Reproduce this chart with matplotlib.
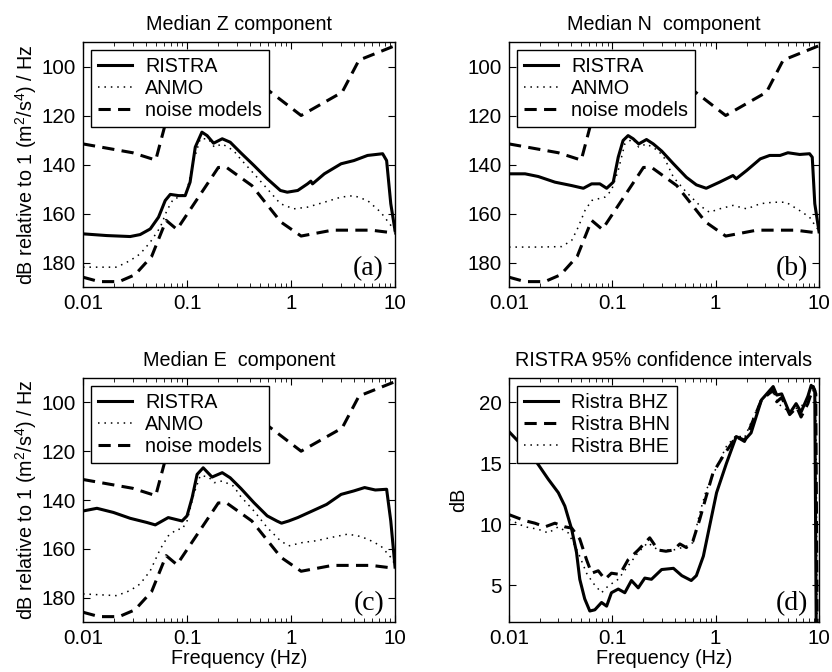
import numpy as np
import matplotlib
matplotlib.use("Agg")
import matplotlib.pyplot as plt

plt.rcParams['font.family'] = ['Liberation Sans', 'DejaVu Sans']
plt.rcParams['mathtext.default'] = 'regular'

# noise models (high / low), frequency in Hz, dB (positive down)
nhnm_f = [0.01, 0.03, 0.05, 0.065, 0.127, 0.159, 0.217, 0.263, 1.25, 3.1, 4.5, 10]
nhnm_db = [131.6, 135.2, 138.2, 120.0, 113.5, 101.0, 96.5, 97.9, 120.0, 110.5, 97.4, 91.5]
nlnm_f = [0.01, 0.0143, 0.0222, 0.0316, 0.0457, 0.063, 0.08, 0.2, 0.24, 0.42, 0.8, 1.25, 2.5, 5.9, 10]
nlnm_db = [186.0, 187.8, 187.8, 185.0, 177.5, 162.8, 166.5, 141.2, 141.2, 148.6, 163.5, 169.2, 166.8, 166.8, 168.0]

# median Z
z_ristra_f = [0.01, 0.0169, 0.0284, 0.0354, 0.0443, 0.0532, 0.0617, 0.069, 0.083, 0.096, 0.107, 0.12,
              0.139, 0.156, 0.18, 0.218, 0.26, 0.33, 0.44, 0.59, 0.79, 0.92, 1.16, 1.44, 1.55, 1.61,
              2.09, 3.03, 4.02, 5.44, 7.6, 8.3, 9.1, 10]
z_ristra_db = [168.3, 169.0, 169.4, 168.6, 166.3, 161.5, 154.7, 152.2, 152.7, 152.7, 147.2, 132.9,
               126.8, 128.2, 131.3, 129.5, 130.9, 135.3, 140.4, 145.8, 150.6, 151.3, 150.6, 147.9, 146.8, 147.9,
               143.8, 139.7, 138.4, 136.3, 135.6, 138.4, 156.0, 167.0]
z_anmo_f = [0.01, 0.0211, 0.0284, 0.0354, 0.0443, 0.0553, 0.064, 0.074, 0.086, 0.1, 0.116, 0.134,
            0.16, 0.183, 0.218, 0.28, 0.326, 0.44, 0.59, 0.79, 1.06, 1.44, 2.09, 3.03, 4.02, 5.44,
            7.3, 9.4, 10]
z_anmo_db = [181.9, 181.9, 179.2, 176.5, 171.7, 165.6, 158.8, 154.0, 153.3, 150.6, 138.4, 129.5,
             129.5, 132.9, 131.6, 134.3, 137.7, 143.8, 149.9, 156.0, 158.1, 157.4, 155.4, 153.3, 152.7, 154.7,
             159.5, 165.6, 167.0]

# median N
n_ristra_f = [0.01, 0.0143, 0.0192, 0.0278, 0.0404, 0.0524, 0.063, 0.0757, 0.0881, 0.102, 0.114, 0.127,
              0.142, 0.159, 0.18, 0.214, 0.249, 0.3, 0.39, 0.52, 0.65, 0.81, 1.09, 1.47, 1.58, 2.0,
              2.7, 3.33, 4.2, 5.0, 6.5, 8.1, 8.6, 9.1, 10]
n_ristra_db = [143.8, 143.8, 144.9, 147.2, 148.6, 149.7, 147.9, 147.9, 149.7, 147.2, 137.0, 130.2,
               128.2, 129.5, 131.6, 129.8, 131.6, 134.5, 139.7, 145.2, 148.3, 149.7, 147.2, 144.5, 145.8, 142.4,
               137.7, 136.3, 136.3, 135.2, 135.9, 135.6, 137.0, 156.0, 167.5]
n_anmo_f = [0.01, 0.0192, 0.0323, 0.0404, 0.0467, 0.0543, 0.063, 0.073, 0.0848, 0.098, 0.114, 0.132,
            0.158, 0.18, 0.214, 0.277, 0.32, 0.39, 0.52, 0.7, 0.87, 1.09, 1.47, 2.0, 2.7, 3.6, 4.8,
            6.5, 8.1, 9.4, 10]
n_anmo_db = [173.7, 173.7, 173.5, 171.0, 165.6, 158.8, 154.7, 154.0, 153.3, 150.6, 142.4, 131.6,
             129.5, 132.9, 131.6, 134.3, 137.5, 145.2, 151.3, 156.7, 159.5, 158.1, 156.7, 158.1, 156.0, 155.4, 155.4,
             158.8, 161.5, 165.6, 167.0]

# median E
e_ristra_f = [0.01, 0.0136, 0.0196, 0.0284, 0.041, 0.0495, 0.066, 0.0896, 0.1, 0.112, 0.125, 0.143,
              0.174, 0.218, 0.26, 0.33, 0.44, 0.59, 0.73, 0.81, 0.95, 1.16, 1.6, 2.2, 3.03, 4.0, 5.1,
              6.46, 8.3, 9.1, 10]
e_ristra_db = [144.5, 143.4, 145.1, 147.5, 149.2, 150.2, 147.2, 148.6, 146.5, 139.0, 129.5, 126.8,
               130.6, 128.8, 130.9, 135.3, 141.1, 146.5, 148.6, 149.5, 148.6, 147.2, 144.5, 141.8, 137.7, 136.3, 134.9,
               135.9, 135.6, 148.6, 167.5]
e_anmo_f = [0.01, 0.0211, 0.0284, 0.0354, 0.0443, 0.0553, 0.066, 0.08, 0.0896, 0.1, 0.116, 0.134,
            0.16, 0.183, 0.218, 0.28, 0.326, 0.44, 0.59, 0.79, 0.95, 1.3, 1.75, 2.4, 3.5, 4.4, 5.44,
            7.3, 9.1, 10]
e_anmo_db = [178.5, 179.2, 177.1, 174.4, 169.0, 160.1, 154.7, 152.0, 152.0, 148.6, 137.7, 130.0,
             130.5, 132.9, 132.2, 134.3, 138.4, 144.5, 151.3, 156.7, 158.8, 157.4, 156.7, 155.4, 154.0, 154.7, 156.0,
             158.8, 163.5, 166.5]

# 95% confidence intervals
ci_z_f = [0.01, 0.0123, 0.0154, 0.0192, 0.024, 0.03, 0.0347, 0.0404, 0.045, 0.0484, 0.054, 0.0605,
          0.0677, 0.0786, 0.088, 0.098, 0.114, 0.132, 0.153, 0.178, 0.206, 0.239, 0.3, 0.39, 0.47,
          0.58, 0.65, 0.76, 0.87, 1.02, 1.27, 1.58, 1.9, 2.2, 2.77, 3.6, 3.9, 4.35, 5.2, 6.0, 6.7,
          7.8, 8.4, 9.1, 9.4, 10]
ci_z_db = [17.6, 16.8, 16.0, 14.9, 13.7, 12.6, 11.5, 9.6, 7.7, 5.5, 3.9, 2.9,
           3.0, 3.6, 3.3, 4.4, 4.7, 4.4, 5.4, 4.8, 5.6, 5.5, 6.3, 6.4, 5.8,
           5.4, 5.8, 7.4, 9.8, 12.6, 15.0, 17.2, 16.9, 17.5, 20.2, 21.3, 20.6, 20.7, 19.1, 19.9, 19.2,
           20.5, 21.4, 21.0, 1.0, 1.0]
ci_n_f = [0.01, 0.0143, 0.0178, 0.0223, 0.0278, 0.0347, 0.0404, 0.0484, 0.0563, 0.063, 0.073, 0.0848,
          0.098, 0.118, 0.142, 0.178, 0.23, 0.277, 0.33, 0.39, 0.45, 0.52, 0.6, 0.7, 0.81, 0.94,
          1.18, 1.58, 1.9, 2.77, 3.6, 3.9, 4.35, 5.2, 6.1, 6.7, 7.8, 8.8, 9.3, 9.6, 10]
ci_n_db = [10.8, 10.3, 10.1, 9.8, 10.1, 9.8, 9.7, 8.8, 7.1, 6.0, 6.2, 5.5,
           6.0, 5.9, 7.1, 7.9, 8.9, 7.9, 7.8, 7.9, 8.4, 8.1, 8.6, 10.4, 12.3, 14.2,
           15.6, 17.2, 16.8, 20.2, 21.0, 20.05, 20.4, 19.0, 19.6, 18.8, 19.9, 21.3, 20.7, 1.0, 1.0]
ci_e_f = [0.01, 0.0143, 0.0192, 0.024, 0.03, 0.0375, 0.0467, 0.0563, 0.065, 0.0786, 0.091, 0.114,
          0.142, 0.178, 0.22, 0.277, 0.39, 0.52, 0.6, 0.7, 0.81, 1.02, 1.27, 1.58, 1.9, 2.77, 3.6,
          4.0, 5.2, 6.3, 7.8, 8.8, 9.3, 9.6, 10]
ci_e_db = [10.4, 9.8, 9.6, 9.3, 9.8, 9.3, 7.7, 6.0, 5.2, 4.4, 4.95, 5.5,
           6.6, 7.7, 8.5, 7.9, 7.9, 8.2, 8.5, 10.9, 12.8, 14.7, 16.4, 17.3, 17.1, 20.3, 20.9,
           19.9, 19.2, 19.6, 20.0, 21.0, 20.7, 1.0, 1.0]

titles = ['Median Z component', 'Median N  component', 'Median E  component',
          'RISTRA 95% confidence intervals']
panel_tags = ['(a)', '(b)', '(c)', '(d)']
median_legend = ['RISTRA', 'ANMO', 'noise models']
ci_legend = ['Ristra BHZ', 'Ristra BHN', 'Ristra BHE']
xticks = [0.01, 0.1, 1, 10]
xticklabels = ['0.01', '0.1', '1', '10']

FS = 14.2
TICK_FS = 14.8
dot_style = dict(color='k', lw=1.1, dashes=(1.0, 3.2))
solid_style = dict(color='k', lw=2.2, ls='-')
dash_style = dict(color='k', lw=2.2, dashes=(4.0, 2.4))


def style_axes(ax, title, tag):
    ax.set_xscale('log')
    ax.set_xlim(0.01, 10)
    ax.set_xticks(xticks)
    ax.set_xticklabels(xticklabels)
    ax.tick_params(which='both', direction='in', top=True, right=True, labelsize=TICK_FS, pad=5)
    ax.tick_params(which='major', length=5)
    ax.tick_params(which='minor', length=3)
    for s in ax.spines.values():
        s.set_linewidth(1.0)
    ax.set_title(title, fontsize=FS, pad=9)
    ax.text(0.965, 0.025, tag, transform=ax.transAxes, ha='right', va='bottom',
            family='Liberation Serif', fontsize=20)


def add_legend(ax, handles, labels):
    leg = ax.legend(handles, labels, loc='upper left', fontsize=FS, frameon=True, fancybox=False,
                    edgecolor='k', framealpha=1, borderaxespad=0.4, borderpad=0.35,
                    labelspacing=0.15, handlelength=1.75, handletextpad=0.65)
    leg.get_frame().set_linewidth(1.0)


fig = plt.figure(figsize=(8.32, 6.72), dpi=100)
positions = [[0.0998, 0.5729, 0.375, 0.3646], [0.6118, 0.5729, 0.3726, 0.3646],
             [0.0998, 0.0744, 0.375, 0.3631], [0.6118, 0.0744, 0.3726, 0.3631]]

median_sets = [(z_ristra_f, z_ristra_db, z_anmo_f, z_anmo_db),
               (n_ristra_f, n_ristra_db, n_anmo_f, n_anmo_db),
               (e_ristra_f, e_ristra_db, e_anmo_f, e_anmo_db)]

for i in range(3):
    ax = fig.add_axes(positions[i])
    rf, rdb, af, adb = median_sets[i]
    h1, = ax.plot(rf, rdb, **solid_style)
    h2, = ax.plot(af, adb, **dot_style)
    h3, = ax.plot(nhnm_f, nhnm_db, **dash_style)
    ax.plot(nlnm_f, nlnm_db, **dash_style)
    ax.set_ylim(190, 90)
    ax.set_yticks([100, 120, 140, 160, 180])
    style_axes(ax, titles[i], panel_tags[i])
    add_legend(ax, [h1, h2, h3], median_legend)
    if i != 1:
        ax.set_ylabel('dB relative to 1 (m$^2$/s$^4$) / Hz', fontsize=FS, labelpad=2)
    if i == 2:
        ax.set_xlabel('Frequency (Hz)', fontsize=FS, labelpad=1)

ax = fig.add_axes(positions[3])
h1, = ax.plot(ci_z_f, ci_z_db, **solid_style)
h2, = ax.plot(ci_n_f, ci_n_db, **dash_style)
h3, = ax.plot(ci_e_f, ci_e_db, **dot_style)
ax.set_ylim(2, 22)
ax.set_yticks([5, 10, 15, 20])
style_axes(ax, titles[3], panel_tags[3])
add_legend(ax, [h1, h2, h3], ci_legend)
ax.set_ylabel('dB', fontsize=FS, labelpad=8)
ax.set_xlabel('Frequency (Hz)', fontsize=FS, labelpad=1)

fig.savefig('out.png', dpi=100)
